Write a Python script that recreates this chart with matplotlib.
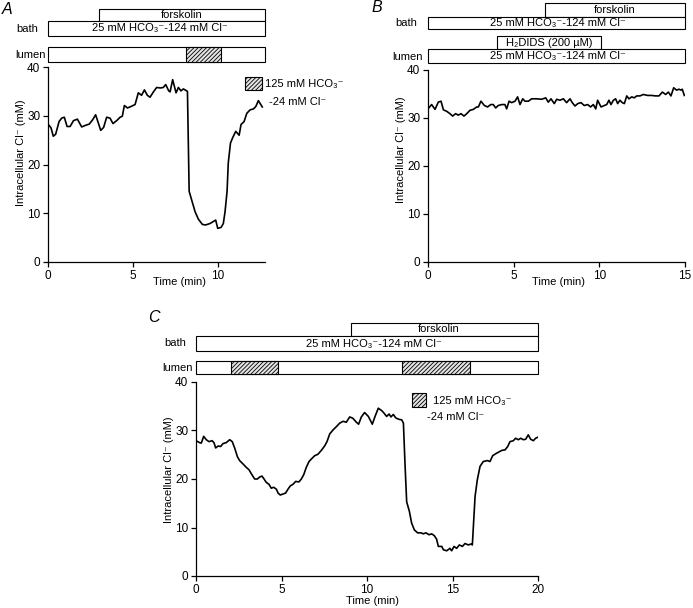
import matplotlib
matplotlib.use('Agg')
import matplotlib.pyplot as plt
from matplotlib.patches import Rectangle
from matplotlib.transforms import blended_transform_factory

plt.rcParams['font.family'] = ['Liberation Sans', 'DejaVu Sans']
plt.rcParams['hatch.linewidth'] = 0.6

W, H = 693, 608

# panel A: time (min), intracellular Cl- (mM)
time_a = [0, 0.18, 0.31, 0.45, 0.65, 0.8, 0.96, 1.12, 1.3, 1.5, 1.73, 1.98, 2.18, 2.43,
          2.63, 2.8, 2.96, 3.1, 3.27, 3.45, 3.65, 3.82, 4.04, 4.24, 4.37, 4.49, 4.67,
          4.88, 5.12, 5.31, 5.5, 5.67, 5.84, 6.0, 6.2, 6.39, 6.6, 6.78, 6.92, 7.1, 7.18,
          7.33, 7.53, 7.67, 7.82, 7.96, 8.16, 8.2, 8.3, 8.45, 8.65, 8.84, 9.08, 9.27,
          9.53, 9.86, 9.98, 10.18, 10.31, 10.41, 10.53, 10.6, 10.73, 10.86, 11.04,
          11.24, 11.35, 11.53, 11.69, 11.88, 12.08, 12.22, 12.37, 12.6]
cl_a = [28.3, 27.5, 25.8, 26.2, 28.8, 29.5, 29.7, 27.8, 27.8, 29.0, 29.3, 27.7, 28.0, 28.3,
        29.2, 30.2, 28.5, 27.0, 27.6, 29.7, 29.5, 28.4, 29.0, 29.7, 29.9, 32.1, 31.6,
        31.9, 32.3, 34.7, 34.2, 35.3, 34.2, 33.8, 34.9, 35.8, 35.7, 35.8, 36.4, 35.1, 34.9,
        37.4, 34.7, 35.8, 35.1, 35.5, 35.1, 35.0, 14.5, 12.7, 10.3, 8.8, 7.7, 7.6,
        7.9, 8.6, 6.9, 7.1, 7.9, 10.3, 14.5, 20.3, 24.4, 25.5, 26.8,
        26.0, 28.2, 28.8, 30.5, 31.2, 31.4, 31.9, 33.1, 31.8]

# panel B
time_b = [0, 0.21, 0.41, 0.6, 0.76, 0.9, 1.09, 1.28, 1.44, 1.61, 1.77, 1.93, 2.1, 2.26,
          2.45, 2.65, 2.84, 2.94, 3.09, 3.29, 3.48, 3.66, 3.81, 3.95, 4.1, 4.3, 4.49,
          4.59, 4.73, 4.88, 5.08, 5.23, 5.37, 5.53, 5.66, 5.86, 6.05, 6.34, 6.63, 6.87,
          7.02, 7.18, 7.37, 7.51, 7.7, 7.9, 8.09, 8.29, 8.42, 8.58, 8.74, 8.93, 9.12,
          9.32, 9.49, 9.65, 9.79, 9.9, 10.1, 10.29, 10.43, 10.56, 10.68, 10.82, 10.95,
          11.07, 11.2, 11.34, 11.46, 11.6, 11.73, 11.89, 12.04, 12.18, 12.37, 12.57,
          12.82, 13.05, 13.29, 13.48, 13.68, 13.87, 14.03, 14.18, 14.34, 14.51, 14.65,
          14.77, 14.84, 14.96]
cl_b = [31.9, 32.8, 31.8, 33.3, 33.5, 31.7, 31.4, 30.9, 30.4, 30.9, 30.6, 30.9, 30.4, 30.9,
        31.6, 31.8, 32.3, 32.3, 33.5, 32.6, 32.3, 32.8, 32.8, 32.1, 32.6, 32.8, 32.8,
        31.9, 33.5, 33.2, 33.5, 34.4, 32.8, 34.0, 33.5, 33.5, 34.0, 34.0, 33.9, 34.2,
        33.3, 34.0, 33.0, 33.9, 33.7, 34.0, 33.2, 34.0, 33.2, 32.5, 33.0, 33.2, 32.6,
        32.8, 32.3, 32.8, 31.9, 33.7, 32.3, 32.6, 32.8, 33.7, 32.8, 33.7, 34.0,
        33.0, 33.7, 33.2, 33.0, 34.6, 34.0, 34.4, 34.2, 34.6, 34.6, 34.9,
        34.7, 34.7, 34.6, 34.6, 35.4, 34.9, 35.4, 34.6, 36.3, 35.8, 36.0,
        35.8, 36.0, 34.7]

# panel C
time_c = [0, 0.21, 0.31, 0.45, 0.6, 0.76, 0.94, 1.05, 1.15, 1.29, 1.44, 1.58, 1.77, 1.97,
          2.12, 2.26, 2.42, 2.55, 2.75, 2.94, 3.1, 3.25, 3.43, 3.59, 3.72, 3.86, 3.98,
          4.11, 4.27, 4.4, 4.54, 4.7, 4.8, 4.93, 5.09, 5.24, 5.38, 5.52, 5.67, 5.83,
          6.02, 6.16, 6.3, 6.45, 6.61, 6.74, 6.94, 7.13, 7.33, 7.52, 7.66, 7.82, 8.01,
          8.21, 8.4, 8.6, 8.79, 8.99, 9.18, 9.38, 9.51, 9.67, 9.86, 10.08, 10.31, 10.47,
          10.66, 10.86, 10.99, 11.15, 11.29, 11.4, 11.54, 11.68, 11.87, 12.03, 12.13,
          12.22, 12.32, 12.48, 12.61, 12.77, 12.96, 13.16, 13.29, 13.45, 13.63, 13.78,
          13.94, 14.07, 14.17, 14.37, 14.47, 14.66, 14.85, 14.95, 15.09, 15.24, 15.4,
          15.58, 15.73, 15.93, 16.08, 16.16, 16.32, 16.45, 16.61, 16.8, 17.04, 17.19,
          17.35, 17.52, 17.68, 17.88, 18.07, 18.23, 18.36, 18.56, 18.69, 18.85, 18.99,
          19.14, 19.28, 19.43, 19.57, 19.73, 19.86, 19.98]
cl_c = [27.9, 27.5, 27.4, 28.8, 28.1, 27.7, 27.9, 27.5, 26.4, 26.8, 26.7, 27.3, 27.5, 28.1,
        27.7, 26.4, 24.6, 23.8, 23.1, 22.4, 21.9, 21.0, 20.0, 20.0, 20.4, 20.6, 20.0,
        19.3, 18.9, 18.1, 18.3, 17.9, 17.1, 16.7, 16.9, 17.1, 17.9, 18.6, 18.9, 19.5,
        19.4, 20.0, 20.9, 22.4, 23.6, 24.1, 24.8, 25.1, 25.9, 26.8, 27.7, 29.3, 30.1,
        30.8, 31.5, 31.9, 31.7, 32.8, 32.5, 31.7, 31.3, 32.8, 33.7, 32.9, 31.3, 32.9,
        34.6, 34.1, 33.6, 32.9, 33.4, 32.8, 33.3, 32.6, 32.3, 32.2, 31.5,
        23.3, 15.3, 13.3, 10.9, 9.5, 8.9, 8.9, 8.7, 8.9, 8.5, 8.7,
        8.3, 7.6, 6.1, 6.1, 5.4, 5.2, 5.7, 5.2, 6.1, 5.7, 6.4,
        6.1, 6.7, 6.4, 6.6, 6.4, 16.4, 19.8, 22.6, 23.6, 23.8, 23.6,
        24.8, 25.2, 25.5, 25.9, 26.0, 26.7, 27.7, 27.9, 28.4, 28.1, 28.4,
        28.1, 28.2, 29.1, 28.2, 27.9, 28.4, 28.6]

# bar protocol (start, end in min)
forsk_a = (3.0, 12.76)
hatch_a = [(8.1, 10.2)]
forsk_b = (6.8, 15.0)
dids_b = (4.05, 10.1)
forsk_c = (9.06, 20.0)
hatch_c = [(2.05, 4.8), (12.05, 16.0)]

bath_txt = '25 mM HCO\u2083\u207b-124 mM Cl\u207b'
fs = 8
HATCH = '////////'


def fy(y):
    return 1 - y / H


def fx(x):
    return x / W


def bar(ax, x0, x1, ytop, ybot, hatch=None):
    tr = blended_transform_factory(ax.transData, fig.transFigure)
    r = Rectangle((x0, fy(ybot)), x1 - x0, (ybot - ytop) / H, transform=tr,
                  facecolor='white' if hatch is None else '#e4e4e4',
                  edgecolor='black', lw=0.8, hatch=hatch, clip_on=False, zorder=3 if hatch else 2)
    ax.add_patch(r)


def bartext(ax, x, y, s):
    tr = blended_transform_factory(ax.transData, fig.transFigure)
    ax.text(x, fy(y), s, transform=tr, ha='center', va='center', fontsize=fs, zorder=4)


def setup(ax, xmax, xticks, ylabel_x, ylabel_y, xlabel_x, xlabel_y):
    ax.set_xlim(0, xmax)
    ax.set_ylim(0, 40)
    ax.set_xticks(xticks)
    ax.set_yticks([0, 10, 20, 30, 40])
    for s in ['top', 'right']:
        ax.spines[s].set_visible(False)
    for s in ['left', 'bottom']:
        ax.spines[s].set_linewidth(0.9)
    ax.tick_params(labelsize=8.5, length=3.5, width=0.9, pad=2)
    fig.text(fx(ylabel_x), fy(ylabel_y), 'Intracellular Cl\u207b (mM)', rotation=90,
             ha='center', va='center', fontsize=fs)
    fig.text(fx(xlabel_x), fy(xlabel_y), 'Time (min)', ha='center', va='center', fontsize=fs)


fig = plt.figure(figsize=(W / 100, H / 100), dpi=100)

# ---- A ----
axA = fig.add_axes([48 / W, 1 - 262 / H, 217 / W, 195 / H])
axA.plot(time_a, cl_a, color='black', lw=1.2)
setup(axA, 12.76, [0, 5, 10], 21, 153, 180, 282)
bar(axA, forsk_a[0], forsk_a[1], 9, 21)
bartext(axA, sum(forsk_a) / 2, 15, 'forskolin')
bar(axA, 0, 12.76, 21, 36)
bartext(axA, 6.6, 28.5, bath_txt)
bar(axA, 0, 12.76, 47, 62)
for h0, h1 in hatch_a:
    bar(axA, h0, h1, 47, 62, hatch=HATCH)
fig.text(fx(38), fy(28.5), 'bath', ha='right', va='center', fontsize=fs)
fig.text(fx(46), fy(55), 'lumen', ha='right', va='center', fontsize=fs)
fig.text(fx(2), fy(9), 'A', fontsize=11.5, style='italic', ha='left', va='center')
fig.patches.append(Rectangle((fx(245), fy(90)), 17 / W, 13 / H, transform=fig.transFigure,
                             facecolor='#e4e4e4', edgecolor='black', lw=0.8, hatch=HATCH))
fig.text(fx(265), fy(84), '125 mM HCO\u2083\u207b', ha='left', va='center', fontsize=fs)
fig.text(fx(269), fy(102), '-24 mM Cl\u207b', ha='left', va='center', fontsize=fs)

# ---- B ----
axB = fig.add_axes([428 / W, 1 - 262 / H, 257 / W, 192 / H])
axB.plot(time_b, cl_b, color='black', lw=1.2)
setup(axB, 15, [0, 5, 10, 15], 401, 150, 558, 282)
bar(axB, forsk_b[0], forsk_b[1], 3, 17)
bartext(axB, sum(forsk_b) / 2, 10, 'forskolin')
bar(axB, 0, 15, 17, 29)
bartext(axB, 7.6, 23, bath_txt)
bar(axB, dids_b[0], dids_b[1], 36, 49)
bartext(axB, sum(dids_b) / 2, 42.5, 'H\u2082DIDS (200 µM)')
bar(axB, 0, 15, 49, 63)
bartext(axB, 7.6, 56, bath_txt)
fig.text(fx(417), fy(23), 'bath', ha='right', va='center', fontsize=fs)
fig.text(fx(423), fy(57), 'lumen', ha='right', va='center', fontsize=fs)
fig.text(fx(371), fy(8), 'B', fontsize=11.5, style='italic', ha='left', va='center')

# ---- C ----
axC = fig.add_axes([196 / W, 1 - 576 / H, 342 / W, 194 / H])
axC.plot(time_c, cl_c, color='black', lw=1.2)
setup(axC, 20, [0, 5, 10, 15, 20], 169, 470, 373, 601)
bar(axC, forsk_c[0], forsk_c[1], 323, 336)
bartext(axC, 14.2, 329.5, 'forskolin')
bar(axC, 0, 20, 336, 351)
bartext(axC, 10.4, 343.5, bath_txt)
bar(axC, 0, 20, 361, 374)
for h0, h1 in hatch_c:
    bar(axC, h0, h1, 361, 374, hatch=HATCH)
fig.text(fx(186), fy(343.5), 'bath', ha='right', va='center', fontsize=fs)
fig.text(fx(193), fy(368), 'lumen', ha='right', va='center', fontsize=fs)
fig.text(fx(148), fy(317), 'C', fontsize=11.5, style='italic', ha='left', va='center')
fig.patches.append(Rectangle((fx(412), fy(407)), 14 / W, 14 / H, transform=fig.transFigure,
                             facecolor='#e4e4e4', edgecolor='black', lw=0.8, hatch=HATCH))
fig.text(fx(433), fy(401), '125 mM HCO\u2083\u207b', ha='left', va='center', fontsize=fs)
fig.text(fx(456), fy(417), '-24 mM Cl\u207b', ha='center', va='center', fontsize=fs)

fig.savefig('out.png', dpi=100)
